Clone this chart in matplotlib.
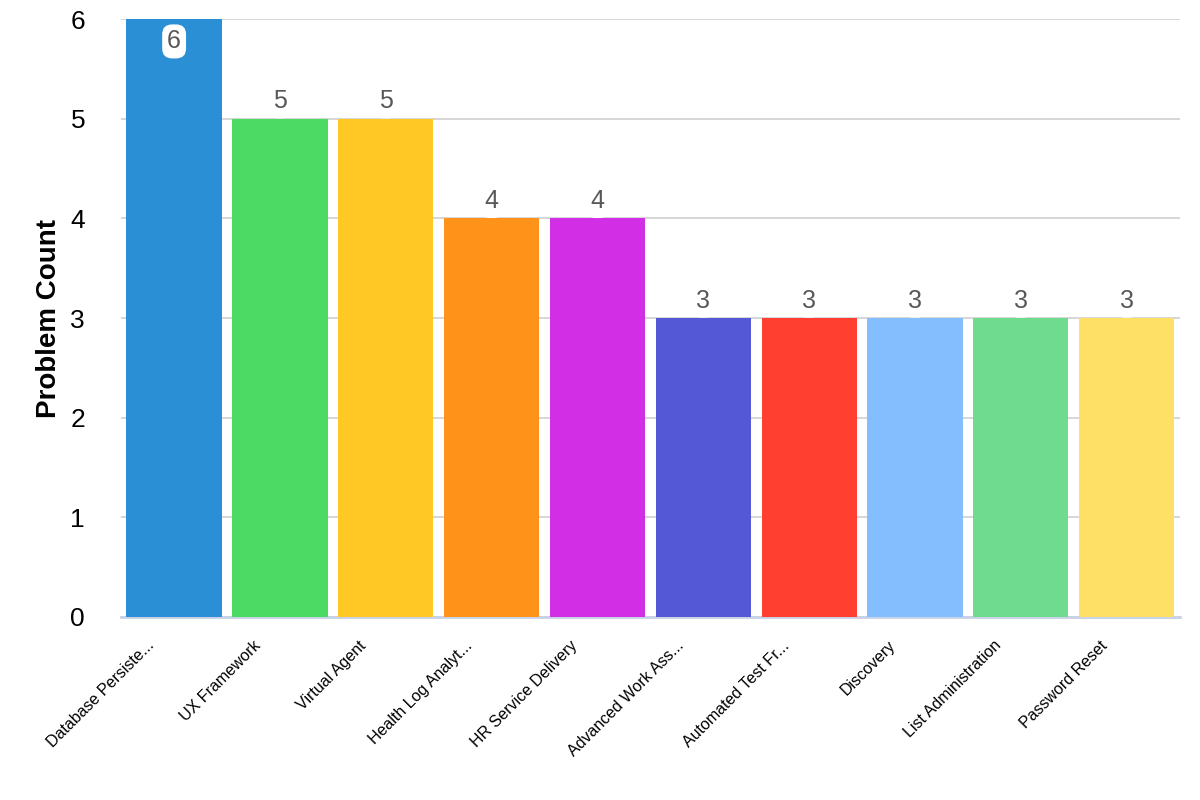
import matplotlib
matplotlib.use('Agg')
import matplotlib.pyplot as plt
import matplotlib.transforms as mtransforms
import numpy as np

plt.rcParams['font.family'] = ['Liberation Sans', 'DejaVu Sans']

categories = ['Database Persiste...', 'UX Framework', 'Virtual Agent', 'Health Log Analyt...',
              'HR Service Delivery', 'Advanced Work Ass...', 'Automated Test Fr...',
              'Discovery', 'List Administration', 'Password Reset']
counts = [6, 5, 5, 4, 4, 3, 3, 3, 3, 3]
colors = ['#2a8fd4', '#4cd964', '#ffc824', '#ff9219', '#d22ee5',
          '#5558d6', '#ff3f2f', '#85beff', '#6fdb8e', '#ffe066']

fig = plt.figure(figsize=(12, 8), dpi=100)
ax = fig.add_axes([0.101, 0.229, 0.882, 0.747])

ind = np.arange(len(categories))
rects = ax.bar(ind, counts, 0.9, color=colors, zorder=3)

ax.set_xlim(-0.5, len(categories) - 0.5)
ax.set_ylim(0, 6)
ax.set_yticks(range(0, 7))
ax.yaxis.grid(True, color='#d0d0d0', linewidth=1.2, zorder=0)
ax.set_axisbelow(True)
for s in ['top', 'right', 'left']:
    ax.spines[s].set_visible(False)
ax.spines['bottom'].set_color('#c8d2e6')
ax.spines['bottom'].set_linewidth(2)
ax.tick_params(axis='both', length=0)
ax.tick_params(axis='y', labelsize=19, pad=26)

ax.set_xticks(ind)
ax.set_xticklabels(categories, rotation=45, ha='right', va='center',
                   rotation_mode='anchor', fontsize=11.5)
ax.tick_params(axis='x', pad=19)
shift = mtransforms.ScaledTranslation(-22 / 100, 0, fig.dpi_scale_trans)
for lbl in ax.get_xticklabels():
    lbl.set_transform(lbl.get_transform() + shift)
ax.set_ylabel('Problem Count', fontsize=20, fontweight='bold', labelpad=6)

ymax = ax.get_ylim()[1]
for rect, v in zip(rects, counts):
    x = rect.get_x() + rect.get_width() / 2
    off = -16 if v >= ymax else 12.5
    ax.annotate(str(v), (x, v), xytext=(0, off), textcoords='offset points',
                ha='center', va='center', fontsize=18, color='#585858', zorder=5,
                bbox=dict(boxstyle='round,pad=0.2,rounding_size=0.4', fc='white', ec='none'))

fig.savefig('out.png', dpi=100)
